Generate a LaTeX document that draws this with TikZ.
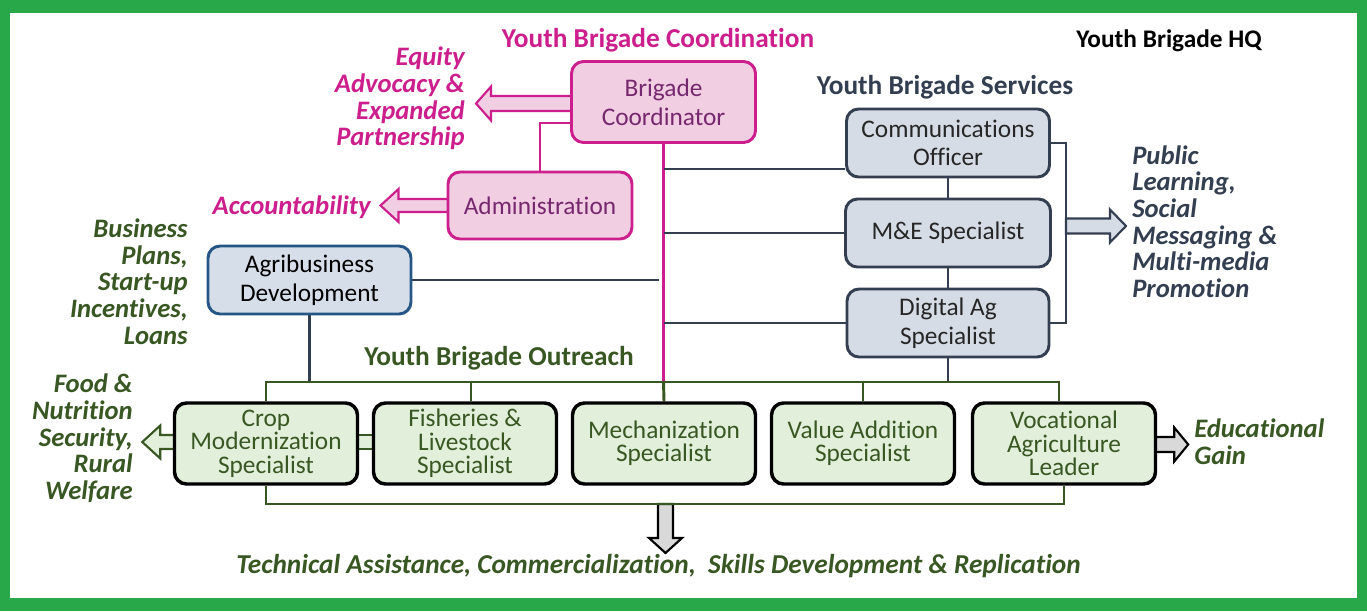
\documentclass[tikz,border=0pt]{standalone}
\usepackage{fontspec}
\setmainfont{Carlito}[Ligatures=NoCommon]
\usetikzlibrary{calc,backgrounds}

\definecolor{frameGreen}{RGB}{40,168,72}
\definecolor{magentaLine}{RGB}{204,30,140}
\definecolor{pinkFill}{RGB}{242,206,227}
\definecolor{plumText}{RGB}{118,40,110}
\definecolor{slate}{RGB}{51,63,80}
\definecolor{slateFill}{RGB}{214,220,229}
\definecolor{agriBlue}{RGB}{38,86,134}
\definecolor{agriFill}{RGB}{214,222,234}
\definecolor{leafFill}{RGB}{226,239,218}
\definecolor{darkGreen}{RGB}{56,87,35}
\definecolor{arrowGray}{RGB}{217,217,217}

\tikzset{
  box/.style={rounded corners=9pt, inner sep=0pt, align=center, line width=2.2pt,
    font=\fontsize{19}{21.5}\selectfont},
  lead/.style={box, draw=magentaLine, fill=pinkFill, text=plumText},
  service/.style={box, draw=slate, fill=slateFill, text=black!85},
  agri/.style={box, draw=agriBlue, fill=agriFill, text=black},
  outreach/.style={box, draw=black, fill=leafFill, text=darkGreen, line width=2.6pt,
    font=\fontsize{19}{17.5}\selectfont, minimum width=137.25pt, minimum height=60.75pt},
  heading/.style={inner sep=0pt, font=\fontsize{20.5}{24}\selectfont\bfseries},
  outcome/.style={inner sep=0pt, font=\fontsize{20}{20}\selectfont\bfseries\itshape},
  magline/.style={draw=magentaLine, line width=2.2pt},
  slateline/.style={draw=slate, line width=2.2pt},
  greenline/.style={draw=darkGreen, line width=2.2pt},
  blockpink/.style={fill=pinkFill, draw=magentaLine, line width=1.6pt, line join=miter},
  blockgreen/.style={fill=leafFill, draw=darkGreen, line width=1.6pt, line join=miter},
  blockslate/.style={fill=slateFill, draw=slate, line width=1.6pt, line join=miter},
  blockgray/.style={fill=arrowGray, draw=black, line width=1.6pt, line join=miter}
}

\begin{document}
\begin{tikzpicture}[x=0.75pt,y=-0.75pt]
\useasboundingbox (0,0) rectangle (1367,611);

% leadership
\node[lead, minimum width=138pt, minimum height=60.75pt] (coord) at (663.5,102) {Brigade\\Coordinator};
\node[lead, minimum width=138pt, minimum height=50.25pt] (admin) at (540,205.5) {Administration};
\node[agri, minimum width=152.25pt, minimum height=51pt] (agri) at (309.5,280) {Agribusiness\\Development};

% services
\node[service, minimum width=152.25pt, minimum height=51pt] (comms) at (948,143) {Communications\\Officer};
\node[service, minimum width=153.75pt, minimum height=51pt] (me) at (948,233) {M\&E Specialist};
\node[service, minimum width=151.5pt, minimum height=51pt] (dig) at (948,323) {Digital Ag\\Specialist};

% outreach
\node[outreach] (crop) at (266,443.5) {Crop\\Modernization\\Specialist};
\node[outreach] (fish) at (465,443.5) {Fisheries \&\\Livestock\\Specialist};
\node[outreach] (mech) at (664,443.5) {Mechanization\\Specialist};
\node[outreach] (val) at (863,443.5) {Value Addition\\Specialist};
\node[outreach] (voc) at (1064,443.5) {Vocational\\Agriculture\\Leader};

% headings
\node[heading, text=magentaLine] (hcoord) at (658,40) {Youth Brigade Coordination};
\node[heading, text=black, font=\fontsize{19}{22}\selectfont\bfseries] (hq) at (1169,41) {Youth Brigade HQ};
\node[heading, text=slate] (hserv) at (945,87) {Youth Brigade Services};
\node[heading, text=darkGreen] (hout) at (499,358) {Youth Brigade Outreach};

% outcomes
\node[outcome, text=magentaLine, align=right, anchor=east] (equity) at (465,98.5)
  {Equity\\Advocacy \&\\Expanded\\Partnership};
\node[outcome, text=magentaLine, anchor=east] (account) at (371,207) {Accountability};
\node[outcome, text=darkGreen, align=right, anchor=east] (business) at (188,281.5)
  {Business\\Plans,\\Start-up\\Incentives,\\Loans};
\node[outcome, text=darkGreen, align=right, anchor=east] (food) at (133,438.5)
  {Food \&\\Nutrition\\Security,\\Rural\\Welfare};
\node[outcome, text=slate, align=left, anchor=west] (public) at (1132,221.5)
  {Public\\Learning,\\Social\\Messaging \&\\Multi-media\\Promotion};
\node[outcome, text=darkGreen, align=left, anchor=west] (edu) at (1194,441.5)
  {Educational\\Gain};
\node[outcome, text=darkGreen, font=\fontsize{20.5}{20}\selectfont\bfseries\itshape] (tech) at (658.5,566)
  {Technical Assistance, Commercialization, \ Skills Development \& Replication};

\begin{pgfonlayer}{background}
  % frame
  \fill[frameGreen] (0,0) rectangle (1367,611);
  \fill[white] (10,13) rectangle (1357,598);

  % junction points on the spine and the two outreach buses
  \coordinate (bj) at (663.5,382);
  \coordinate (bb) at (665.5,504);
  \coordinate (cL) at ($(comms.west)+(0,26)$);
  \coordinate (aE) at ($(agri.east -| bj)+(-5,0)$);
  \coordinate (bR) at ($(voc.north |- bj)+(-5,0)$);
  \coordinate (fD) at ($(fish.north)+(6,0)$);
  \coordinate (sA) at ($(comms.east)+(15,83)$);

  % coordination lines
  \draw[magline] ($(coord.west)+(0,21)$) -| (admin.north);
  \draw[magline] (coord.south) -- (bj);

  % services lines
  \draw[slateline] (cL) -- (cL -| bj);
  \draw[slateline] (me.west) -- (me.west -| bj);
  \draw[slateline] (dig.west) -- (dig.west -| bj);
  \draw[slateline] (agri.east) -- (aE);
  \draw[slateline] (agri.south) -- (agri.south |- bj);
  \draw[slateline] (comms.south) -- (me.north);
  \draw[slateline] (me.south) -- (dig.north);
  \draw[slateline] (dig.south) -- (dig.south |- bj);
  \draw[slateline] (comms.east) -- ++(15,0) |- (dig.east);

  % block arrows
  \filldraw[blockpink, shift={(coord.west)}]
    (5,-6) -- (-79,-6) -- (-79,-15.5) -- (-94,1.5) -- (-79,18.5) -- (-79,9) -- (5,9) -- cycle;
  \filldraw[blockpink, shift={(admin.west)}]
    (5,-6.5) -- (-48,-6.5) -- (-48,-16.5) -- (-66,0) -- (-48,16.5) -- (-48,6.5) -- (5,6.5) -- cycle;
  \filldraw[blockslate, shift={(sA)}]
    (0,-7.5) -- (44,-7.5) -- (44,-16.5) -- (60,0) -- (44,16.5) -- (44,7.5) -- (0,7.5) -- cycle;
  \filldraw[blockgreen, shift={(crop.west)}]
    (5,-8.5) -- (-12.5,-8.5) -- (-12.5,-18) -- (-30.5,-1.5) -- (-12.5,15) -- (-12.5,5.5) -- (5,5.5) -- cycle;
  \filldraw[blockgreen] ($(crop.east)+(-5,-8.5)$) rectangle ($(fish.west)+(5,5.5)$);
  \filldraw[blockgray, shift={(voc.east)}]
    (-5,-6.5) -- (17,-6.5) -- (17,-16) -- (31,1) -- (17,18) -- (17,8.5) -- (-5,8.5) -- cycle;
  \filldraw[blockgray, shift={(bb)}]
    (-7.5,0) -- (-7.5,34) -- (-16.5,34) -- (0,49) -- (16.5,34) -- (7.5,34) -- (7.5,0) -- cycle;

  % outreach buses
  \draw[greenline] (bj) -- (mech.north);
  \draw[greenline] (crop.north) -- (crop.north |- bj) -- (bR) -- (bR |- voc.north);
  \draw[greenline] (fD) -- (fD |- bj);
  \draw[greenline] (val.north) -- (val.north |- bj);
  \draw[greenline] (crop.south) -- (crop.south |- bb) -- (voc.south |- bb) -- (voc.south);
\end{pgfonlayer}
\end{tikzpicture}
\end{document}
